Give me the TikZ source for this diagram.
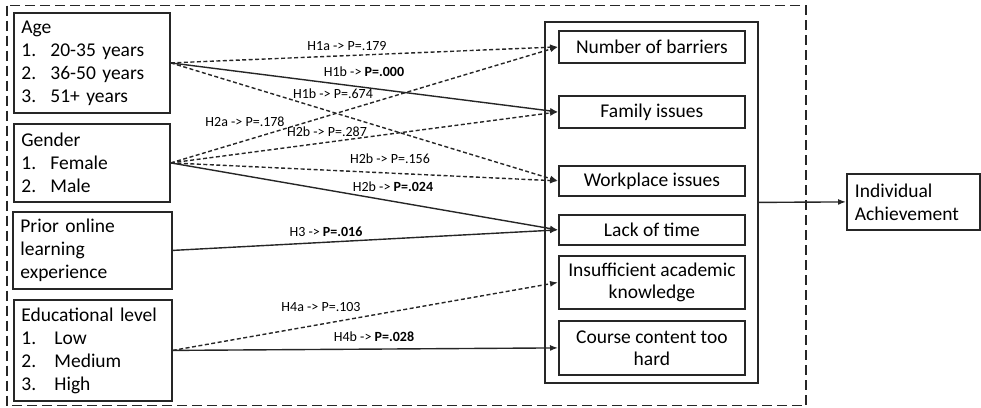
\documentclass[tikz,border=0pt]{standalone}
\usepackage{fontspec}
\setmainfont{Carlito}
\usetikzlibrary{arrows.meta}
\begin{document}
\begin{tikzpicture}[x=1pt,y=-1pt,
  ink/.style={draw=black!85},
  box/.style={ink, line width=1.8pt, inner ysep=0pt, font=\fontsize{19.5}{23}\selectfont, anchor=north west},
  factor/.style={box, align=left, inner xsep=7.5pt, text width=141pt},
  barrier/.style={box, align=center, inner xsep=0pt, minimum width=186pt},
  path/.style={ink, line width=1.4pt, -{Latex[length=8pt,width=6pt]}},
  weak/.style={path, dash pattern=on 4pt off 2.5pt},
  lab/.style={font=\fontsize{14}{16}\selectfont, inner sep=1pt},
  frame/.style={ink, line width=1.5pt, dash pattern=on 10pt off 5pt}
]
\useasboundingbox (0,0) rectangle (981,407);

% dashed frame around the model
\draw[frame] (7,5.5) rectangle (806,405.5);

% explanatory variables
\node[factor, minimum height=100pt] (age) at (13,12)
  {Age\\\makebox[29pt][l]{1.}20-35 years\\\makebox[29pt][l]{2.}36-50 years\\\makebox[29pt][l]{3.}51+ years};
\node[factor, minimum height=78pt] (gender) at (13,123)
  {Gender\\\makebox[29pt][l]{1.}Female\\\makebox[29pt][l]{2.}Male};
\node[factor, minimum height=77pt, text width=144pt] (prior) at (12,211)
  {Prior online\\learning\\experience};
\node[factor, minimum height=101pt, text width=143pt] (edu) at (13,299)
  {Educational level\\\makebox[33pt][l]{1.}Low\\\makebox[33pt][l]{2.}Medium\\\makebox[33pt][l]{3.}High};

% barriers panel
\node[box, minimum width=213pt, minimum height=361pt] (panel) at (544,21) {};
\node[barrier, minimum height=32pt] (nb) at (558,30) {Number of barriers};
\node[barrier, minimum height=32pt] (fi) at (558,95) {Family issues};
\node[barrier, minimum height=30pt] (wi) at (558,165) {Workplace issues};
\node[barrier, minimum height=30pt] (lt) at (558,214) {Lack of time};
\node[barrier, minimum height=53pt, font=\fontsize{19.5}{22}\selectfont] (iak) at (558,255) {Insufficient academic\\knowledge};
\node[barrier, minimum height=54pt, font=\fontsize{19.5}{22}\selectfont] (cc) at (558,320) {Course content too\\hard};

% outcome
\node[box, align=left, inner xsep=8pt, text width=117pt, minimum height=56pt] (ia) at (846,173)
  {Individual\\Achievement};

% hypothesised paths
\draw[weak] (age.east) -- (nb.west);
\draw[path] (age.east) -- (fi.west);
\draw[weak] (age.east) -- (wi.west);
\draw[weak] (gender.east) -- (nb.west);
\draw[weak] (gender.east) -- (fi.west);
\draw[weak] (gender.east) -- (wi.west);
\draw[path] (gender.east) -- (lt.west);
\draw[path] (prior.east) -- (lt.west);
\draw[weak] (edu.east) -- (iak.west);
\draw[path] (edu.east) -- (cc.west);
\draw[path] (panel.east) -- (ia.west);

% path labels
\node[lab] (l1a) at (347,46) {H1a -> P=.179};
\node[lab] (l1b) at (364,72) {H1b -> \textbf{P=.000}};
\node[lab] (l1c) at (333,94) {H1b -> P=.674};
\node[lab] (l2a) at (245,122) {H2a -> P=.178};
\node[lab] (l2b) at (327,132) {H2b -> P=.287};
\node[lab] (l2c) at (390,159) {H2b -> P=.156};
\node[lab] (l2d) at (393,187) {H2b -> \textbf{P=.024}};
\node[lab] (l3) at (326,232) {H3 -> \textbf{P=.016}};
\node[lab] (l4a) at (321,307) {H4a -> P=.103};
\node[lab] (l4b) at (374,337) {H4b -> \textbf{P=.028}};
\end{tikzpicture}
\end{document}
